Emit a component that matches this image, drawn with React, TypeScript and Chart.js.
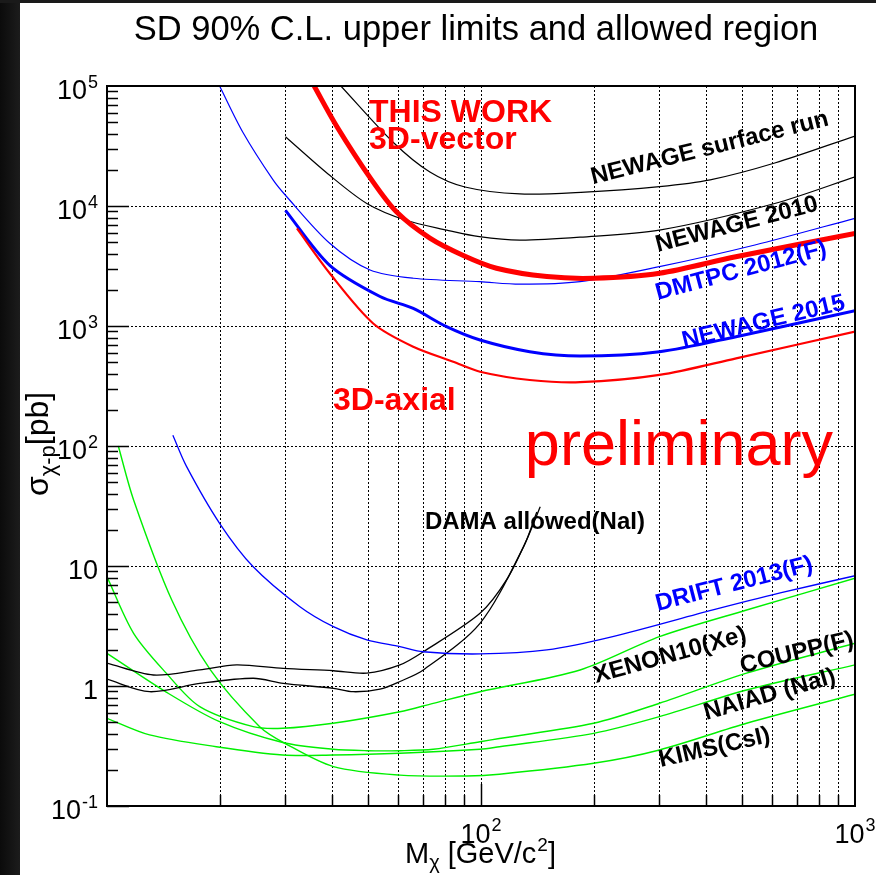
import React, { useEffect, useRef } from "react";
import { Chart, registerables } from "chart.js";

Chart.register(...registerables);

// ---------- axis ranges & ticks ----------
const X_MIN = 10;
const X_MAX = 1000;
const Y_MIN = 0.1;
const Y_MAX = 1e5;
const xGridValues = [20, 30, 40, 50, 60, 70, 80, 90, 100, 200, 300, 400, 500, 600, 700, 800, 900];
const yGridValues = [1, 10, 100, 1e3, 1e4];
const yTickValues = [0.1, 1, 10, 100, 1e3, 1e4, 1e5];
const yTickBase = ["10", "1", "10", "10", "10", "10", "10"];
const yTickExp = ["-1", "", "", "2", "3", "4", "5"];
const xTickValues = [100, 1000];
const xTickBase = ["10", "10"];
const xTickExp = ["2", "3"];

// ---------- data (mass [GeV/c^2], cross-section [pb]) ----------
const thisWorkVectorMass = [35.8, 41.2, 51, 59.5, 73, 90, 110, 150, 200, 300, 480, 1000];
const thisWorkVectorSigma = [1e5, 4.58e4, 1.65e4, 8.9e3, 5.4e3, 3.85e3, 3.03e3, 2.58e3, 2.5e3, 2.75e3, 3.78e3, 5.9e3];

const thisWorkAxialMass = [32.2, 39.4, 51.5, 65.9, 84.3, 99.4, 135, 184, 300, 481, 1000];
const thisWorkAxialSigma = [6.5e3, 2.75e3, 1.05e3, 672, 504, 416, 355, 340, 391, 538, 897];

const newage2015Mass = [30, 39.4, 53.7, 65.9, 80.9, 99.4, 135, 184, 300, 481, 1000];
const newage2015Sigma = [9.2e3, 3.2e3, 1.76e3, 1.4e3, 987, 764, 611, 562, 611, 815, 1.34e3];

const dmtpcMass = [20, 23.1, 27.8, 30.2, 39.4, 50.5, 65.9, 99.4, 127, 184, 300, 540, 1000];
const dmtpcSigma = [1e5, 4.1e4, 1.65e4, 1.2e4, 4.89e3, 2.93e3, 2.5e3, 2.34e3, 2.23e3, 2.34e3, 3.12e3, 4.73e3, 7.9e3];

const newage2010Mass = [30, 39, 49.5, 63, 81, 99, 127, 184, 300, 610, 1000];
const newage2010Sigma = [3.78e4, 1.85e4, 1.05e4, 7.6e3, 6.3e3, 5.55e3, 5.2e3, 5.5e3, 6.3e3, 1.05e4, 1.75e4];

const surfaceRunMass = [42.2, 58.5, 73, 90.6, 127, 185, 300, 410, 610, 1000];
const surfaceRunSigma = [1e5, 3.35e4, 1.92e4, 1.44e4, 1.26e4, 1.3e4, 1.45e4, 1.65e4, 2.28e4, 3.83e4];

const driftMass = [15, 16.3, 20, 24.6, 32.8, 40.3, 49.5, 60.7, 70, 99.4, 150, 225, 417, 631, 1000];
const driftSigma = [123, 68, 22.7, 9.86, 4.58, 3.12, 2.42, 2.13, 1.93, 1.85, 2.0, 2.58, 4.3, 5.96, 8.3];

const damaUpperMass = [10, 13.3, 17.7, 22.2, 29.6, 40.3, 49.5, 60.7, 70.1, 99.4, 117, 132.4, 144];
const damaUpperSigma = [1.55, 1.235, 1.36, 1.5, 1.4, 1.34, 1.28, 1.5, 1.93, 4.03, 7.65, 16.5, 31.2];
const damaLowerMass = [10, 13.0, 17.7, 24.6, 29.6, 40.3, 45.5, 53.7, 60.7, 70.1, 99.4, 130, 141];
const damaLowerSigma = [1.14, 0.896, 1.05, 1.16, 1.05, 0.957, 0.896, 0.94, 1.09, 1.36, 3.33, 14.5, 28.2];

const xenon10Mass = [10, 11.78, 14.4, 17.7, 24.6, 29.5, 40.2, 60.7, 74.5, 99.4, 184, 300, 513, 1000];
const xenon10Sigma = [8.14, 2.75, 1.28, 0.673, 0.458, 0.444, 0.489, 0.61, 0.717, 0.896, 1.36, 2.58, 4.3, 7.9];

const couppMass = [10, 14.4, 20, 29.5, 40.2, 49.5, 60.7, 74.5, 99.4, 112, 200, 300, 513, 1000];
const couppSigma = [1.87, 0.89, 0.504, 0.338, 0.297, 0.289, 0.289, 0.297, 0.343, 0.365, 0.489, 0.718, 1.28, 2.27];

const naiadMass = [10, 13, 19.6, 29.5, 40.2, 60.7, 99.4, 112, 200, 300, 513, 1000];
const naiadSigma = [0.538, 0.391, 0.312, 0.266, 0.266, 0.275, 0.297, 0.312, 0.403, 0.555, 0.926, 1.5];

const kimsMass = [10.72, 11.78, 14.9, 18.9, 25.6, 29.9, 40.3, 60.7, 91.6, 112, 200, 300, 513, 1000];
const kimsSigma = [100, 35.5, 5.2, 1.36, 0.458, 0.333, 0.213, 0.181, 0.178, 0.184, 0.227, 0.293, 0.489, 0.853];

// ---------- annotation texts (anchored in data coordinates) ----------
const labelTexts = [
  "THIS WORK", "3D-vector", "3D-axial", "preliminary",
  "NEWAGE surface run", "NEWAGE 2010", "DMTPC 2012(F)", "NEWAGE 2015",
  "DRIFT 2013(F)", "XENON10(Xe)", "COUPP(F)", "NAIAD (NaI)", "KIMS(CsI)", "DAMA allowed(NaI)",
];
const labelMass = [50.2, 50.2, 40.2, 131, 199.3, 297, 297, 349, 297, 203, 499, 400, 302.6, 70.8];
const labelSigma = [5.0e4, 2.99e4, 200, 69.5, 1.52e4, 4.14e3, 1.65e3, 656, 4.22, 1.06, 1.28, 0.521, 0.211, 20.3];

const FONT = '"Liberation Sans", Arial, Helvetica, sans-serif';
const RED = "#ff0000";
const BLUE = "#0000ff";
const GREEN = "#00f000";
const BLACK = "#000000";

const labelStyle = [
  { color: RED, font: `bold 32px ${FONT}`, angle: 0 },
  { color: RED, font: `bold 32px ${FONT}`, angle: 0 },
  { color: RED, font: `bold 32px ${FONT}`, angle: 0 },
  { color: RED, font: `63px ${FONT}`, angle: 0 },
  { color: BLACK, font: `bold 24px ${FONT}`, angle: -14 },
  { color: BLACK, font: `bold 24px ${FONT}`, angle: -14.5 },
  { color: BLUE, font: `bold 24px ${FONT}`, angle: -15 },
  { color: BLUE, font: `bold 24px ${FONT}`, angle: -13.5 },
  { color: BLUE, font: `bold 24px ${FONT}`, angle: -14.5 },
  { color: BLACK, font: `bold 24px ${FONT}`, angle: -15.5 },
  { color: BLACK, font: `bold 24px ${FONT}`, angle: -13.5 },
  { color: BLACK, font: `bold 24px ${FONT}`, angle: -16 },
  { color: BLACK, font: `bold 24px ${FONT}`, angle: -13 },
  { color: BLACK, font: `bold 24px ${FONT}`, angle: 0 },
];

function series(label: string, xs: number[], ys: number[], color: string, width: number) {
  return {
    label,
    data: xs.map((x, i) => ({ x, y: ys[i] })),
    borderColor: color,
    backgroundColor: color,
    borderWidth: width,
    pointRadius: 0,
    fill: false,
    tension: 0.3,
  };
}

function drawPow(
  ctx: CanvasRenderingContext2D,
  base: string,
  exp: string,
  x: number,
  y: number,
  align: "left" | "center" | "right",
  size: number,
  supSize: number,
  rise: number
) {
  ctx.font = `${size}px ${FONT}`;
  const wb = ctx.measureText(base).width;
  ctx.font = `${supSize}px ${FONT}`;
  const we = exp ? ctx.measureText(exp).width + 1 : 0;
  const total = wb + we;
  const x0 = align === "left" ? x : align === "center" ? x - total / 2 : x - total;
  ctx.textAlign = "left";
  ctx.textBaseline = "alphabetic";
  ctx.font = `${size}px ${FONT}`;
  ctx.fillText(base, x0, y);
  if (exp) {
    ctx.font = `${supSize}px ${FONT}`;
    ctx.fillText(exp, x0 + wb + 1, y - rise);
  }
}

const decorPlugin = {
  id: "decor",
  beforeDatasetsDraw(chart: any) {
    const { ctx, chartArea: a, scales } = chart;
    const xs = scales.x;
    const ys = scales.y;
    ctx.save();
    ctx.strokeStyle = "#000";
    ctx.lineWidth = 1;
    ctx.setLineDash([2, 2]);
    for (const v of xGridValues) {
      const px = Math.round(xs.getPixelForValue(v)) + 0.5;
      ctx.beginPath();
      ctx.moveTo(px, a.top);
      ctx.lineTo(px, a.bottom);
      ctx.stroke();
    }
    for (const v of yGridValues) {
      const py = Math.round(ys.getPixelForValue(v)) + 0.5;
      ctx.beginPath();
      ctx.moveTo(a.left, py);
      ctx.lineTo(a.right, py);
      ctx.stroke();
    }
    ctx.restore();
  },
  afterDatasetsDraw(chart: any) {
    const { ctx, chartArea: a, scales } = chart;
    const xs = scales.x;
    const ys = scales.y;
    ctx.save();
    // tick marks (inside)
    ctx.strokeStyle = "#000";
    ctx.lineWidth = 1.5;
    ctx.setLineDash([]);
    for (let e = -1; e < 5; e++) {
      for (let k = 1; k <= 9; k++) {
        const v = k * Math.pow(10, e);
        if (v < Y_MIN || v > Y_MAX) continue;
        const py = Math.round(ys.getPixelForValue(v)) + 0.5;
        const len = k === 1 ? 22 : 11;
        ctx.beginPath();
        ctx.moveTo(a.left, py);
        ctx.lineTo(a.left + len, py);
        ctx.stroke();
      }
    }
    for (let e = 1; e < 3; e++) {
      for (let k = 1; k <= 9; k++) {
        const v = k * Math.pow(10, e);
        if (v <= X_MIN) continue;
        const px = Math.round(xs.getPixelForValue(v)) + 0.5;
        const len = k === 1 ? 22 : 11;
        ctx.beginPath();
        ctx.moveTo(px, a.bottom);
        ctx.lineTo(px, a.bottom - len);
        ctx.stroke();
      }
    }
    // frame
    ctx.lineWidth = 2;
    ctx.strokeRect(a.left, a.top, a.right - a.left, a.bottom - a.top);

    // tick labels
    ctx.fillStyle = "#000";
    yTickValues.forEach((v, i) => {
      const py = ys.getPixelForValue(v);
      drawPow(ctx, yTickBase[i], yTickExp[i], 98, py + 13, "right", 27, 18, 11);
    });
    xTickValues.forEach((v, i) => {
      const px = xs.getPixelForValue(v);
      drawPow(ctx, xTickBase[i], xTickExp[i], px, 843, "center", 27, 18, 12);
    });

    // title
    ctx.font = `34.5px ${FONT}`;
    ctx.textAlign = "center";
    ctx.textBaseline = "alphabetic";
    ctx.fillText("SD 90% C.L. upper limits and allowed region", 476, 40);

    // x-axis title: M_chi [GeV/c^2]
    ctx.textAlign = "left";
    let cx = 405;
    const by = 863;
    ctx.font = `29px ${FONT}`;
    ctx.fillText("M", cx, by);
    cx += ctx.measureText("M").width;
    ctx.font = `20px ${FONT}`;
    ctx.fillText("\u03c7", cx, by + 6);
    cx += ctx.measureText("\u03c7").width;
    ctx.font = `29px ${FONT}`;
    ctx.fillText(" [GeV/c", cx, by);
    cx += ctx.measureText(" [GeV/c").width;
    ctx.font = `19px ${FONT}`;
    ctx.fillText("2", cx + 1, by - 12);
    cx += ctx.measureText("2").width + 1;
    ctx.font = `29px ${FONT}`;
    ctx.fillText("]", cx, by);

    // y-axis title: sigma_{chi-p}[pb]
    ctx.save();
    ctx.translate(48, 496);
    ctx.rotate(-Math.PI / 2);
    let ty = 0;
    ctx.font = `32px ${FONT}`;
    ctx.fillText("\u03c3", ty, 0);
    ty += ctx.measureText("\u03c3").width;
    ctx.font = `22px ${FONT}`;
    ctx.fillText("\u03c7-p", ty, 7);
    ty += ctx.measureText("\u03c7-p").width;
    ctx.font = `32px ${FONT}`;
    ctx.fillText("[pb]", ty, 0);
    ctx.restore();

    // annotations
    labelTexts.forEach((t, i) => {
      const st = labelStyle[i];
      const px = xs.getPixelForValue(labelMass[i]);
      const py = ys.getPixelForValue(labelSigma[i]);
      ctx.save();
      ctx.translate(px, py);
      ctx.rotate((st.angle * Math.PI) / 180);
      ctx.font = st.font;
      ctx.fillStyle = st.color;
      ctx.textAlign = "left";
      ctx.textBaseline = "alphabetic";
      ctx.fillText(t, 0, 0);
      ctx.restore();
    });
    ctx.restore();
  },
};

export default function App() {
  const ref = useRef<HTMLCanvasElement>(null);
  useEffect(() => {
    const canvas = ref.current;
    if (!canvas) return;
    const datasets = [
      series("THIS WORK 3D-vector", thisWorkVectorMass, thisWorkVectorSigma, RED, 5),
      series("THIS WORK 3D-axial", thisWorkAxialMass, thisWorkAxialSigma, RED, 2.2),
      series("NEWAGE 2015", newage2015Mass, newage2015Sigma, BLUE, 3),
      series("DMTPC 2012(F)", dmtpcMass, dmtpcSigma, BLUE, 1.2),
      series("NEWAGE 2010", newage2010Mass, newage2010Sigma, BLACK, 1.2),
      series("NEWAGE surface run", surfaceRunMass, surfaceRunSigma, BLACK, 1.2),
      series("DRIFT 2013(F)", driftMass, driftSigma, BLUE, 1.3),
      series("DAMA upper", damaUpperMass, damaUpperSigma, BLACK, 1.3),
      series("DAMA lower", damaLowerMass, damaLowerSigma, BLACK, 1.3),
      series("XENON10(Xe)", xenon10Mass, xenon10Sigma, GREEN, 1.4),
      series("COUPP(F)", couppMass, couppSigma, GREEN, 1.4),
      series("NAIAD (NaI)", naiadMass, naiadSigma, GREEN, 1.4),
      series("KIMS(CsI)", kimsMass, kimsSigma, GREEN, 1.4),
    ];
    const chart = new Chart(canvas, {
      type: "line",
      data: { datasets },
      options: {
        responsive: false,
        animation: false,
        devicePixelRatio: 1,
        layout: { padding: { left: 107, right: 21, top: 86, bottom: 69 } },
        plugins: { legend: { display: false }, tooltip: { enabled: false }, title: { display: false } },
        scales: {
          x: { type: "logarithmic", min: X_MIN, max: X_MAX, display: false },
          y: { type: "logarithmic", min: Y_MIN, max: Y_MAX, display: false },
        },
      },
      plugins: [decorPlugin],
    } as any);
    return () => chart.destroy();
  }, []);
  return (
    <div style={{ position: "absolute", left: 0, top: 0, width: 876, height: 875, background: "#fff", overflow: "hidden" }}>
      <div style={{ position: "absolute", left: 0, top: 0, width: 20, height: 875, background: "linear-gradient(90deg, #0b0b0b, #1c1c1c)" }} />
      <div style={{ position: "absolute", left: 0, top: 0, width: 876, height: 3, background: "#1a1a1a" }} />
      <canvas ref={ref} width={876} height={875} style={{ position: "absolute", left: 0, top: 0, width: 876, height: 875 }} />
    </div>
  );
}
